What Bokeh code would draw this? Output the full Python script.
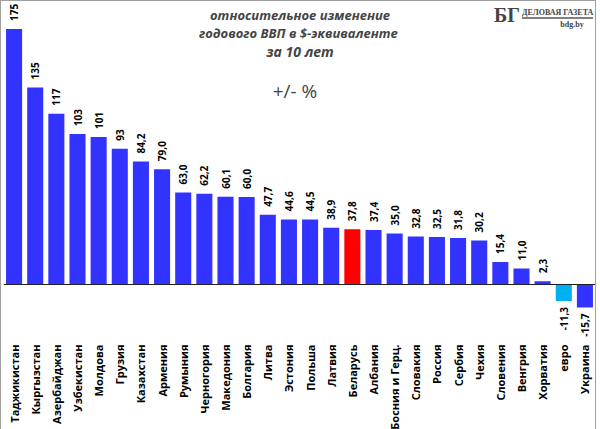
import math
from bokeh.plotting import figure
from bokeh.models import ColumnDataSource, FixedTicker, Span, Label, Range1d
from bokeh.core.properties import value
from bokeh.embed import file_html
from bokeh.resources import INLINE

# ---- data ----
countries = ["Таджикистан", "Кыргызстан", "Азербайджан", "Узбекистан", "Молдова",
             "Грузия", "Казахстан", "Армения", "Румыния", "Черногория", "Македония",
             "Болгария", "Литва", "Эстония", "Польша", "Латвия", "Беларусь", "Албания",
             "Босния и Герц.", "Словакия", "Россия", "Сербия", "Чехия", "Словения",
             "Венгрия", "Хорватия", "евро", "Украина"]
values = [175, 135, 117, 103, 101, 93, 84.2, 79.0, 63.0, 62.2, 60.1, 60.0, 47.7,
          44.6, 44.5, 38.9, 37.8, 37.4, 35.0, 32.8, 32.5, 31.8, 30.2, 15.4, 11.0,
          2.3, -11.3, -15.7]
value_labels = ["175", "135", "117", "103", "101", "93", "84,2", "79,0", "63,0", "62,2",
                "60,1", "60,0", "47,7", "44,6", "44,5", "38,9", "37,8", "37,4", "35,0",
                "32,8", "32,5", "31,8", "30,2", "15,4", "11,0", "2,3", "-11,3", "-15,7"]

title_lines = ["относительное изменение", "годового  ВВП в $-эквиваленте", "за 10 лет"]
unit_text = "+/- %"

# ---- layout constants (page pixels) ----
N = len(countries)
S = 1.46            # px per unit
ZERO = 285          # page y of zero line
LEFT = 4.5          # page x of frame left
TOP = 2             # page y of frame top
FW, FH = 592, 336
CW = FW / N

def dx(px):
    return (px - LEFT) / CW - 0.5

def dy(py):
    return (ZERO - py) / S

BLUE, RED, CYAN = "#3333FF", "#FF0000", "#00B0F0"
colors = [RED if c == "Беларусь" else CYAN if c == "евро" else BLUE for c in countries]
xs = list(range(N))

lab_y = [v + 8 / S if v >= 0 else v - 6 / S for v in values]
lab_align = ["left" if v >= 0 else "right" for v in values]

src = ColumnDataSource(dict(x=xs, top=values, color=colors, ly=lab_y,
                            lt=value_labels, la=lab_align))

p = figure(frame_width=FW, frame_height=FH, output_backend="svg", toolbar_location=None,
           x_range=Range1d(-0.5, N - 0.5), y_range=Range1d(dy(TOP + FH), dy(TOP)),
           y_axis_location=None, min_border_left=2, min_border_right=0,
           min_border_top=0, min_border_bottom=88)
p.styles = {"border": "1px solid #a0a0a0"}
p.outline_line_color = None
p.xgrid.visible = False
p.ygrid.visible = False

p.vbar(x="x", top="top", width=0.76, fill_color="color", line_color=None, source=src)
p.add_layout(Span(location=0, dimension="width", line_color="#202020", line_width=1))

p.text(x="x", y="ly", text="lt", angle=math.pi / 2, text_align="la",
       text_baseline="middle", text_font=value("Open Sans"), text_font_style="bold",
       text_font_size="10px", text_color="black", source=src)

ax = p.xaxis[0]
ax.ticker = FixedTicker(ticks=xs)
ax.major_label_overrides = {i: c for i, c in enumerate(countries)}
ax.major_label_orientation = math.pi / 2
ax.major_label_text_font = "Open Sans"
ax.major_label_text_font_style = "bold"
ax.major_label_text_font_size = "11px"
ax.major_label_text_color = "black"
ax.major_label_standoff = 7
ax.axis_line_color = None
ax.major_tick_line_color = None
ax.minor_tick_line_color = None
ax.major_tick_out = 0
ax.major_tick_in = 0

# titles
for txt, py, fs in zip(title_lines, [15, 33, 52], ["13px", "13px", "14px"]):
    p.add_layout(Label(x=dx(301), y=dy(py), text=txt, text_align="center",
                       text_baseline="middle", text_font="Open Sans",
                       text_font_style="bold italic", text_font_size=fs))
p.add_layout(Label(x=dx(296), y=dy(91), text=unit_text, text_align="center",
                   text_baseline="middle", text_font="Open Sans",
                   text_font_size="19px"))

# logo
p.add_layout(Label(x=dx(495), y=dy(15), text="БГ", text_align="left",
                   text_baseline="middle", text_font="Liberation Serif",
                   text_font_style="bold", text_font_size="20px"))
p.add_layout(Label(x=dx(523), y=dy(13), text="ДЕЛОВАЯ ГАЗЕТА", text_align="left",
                   text_baseline="middle", text_font="Liberation Serif",
                   text_font_style="bold", text_font_size="8px"))
p.line(x=[dx(523), dx(594)], y=[dy(18.5), dy(18.5)], line_color="black", line_width=1)
p.add_layout(Label(x=dx(573), y=dy(25), text="bdg.by", text_align="center",
                   text_baseline="middle", text_font="Liberation Serif",
                   text_font_style="bold", text_font_size="8px"))

open("out.html", "w").write(file_html(p, INLINE))
